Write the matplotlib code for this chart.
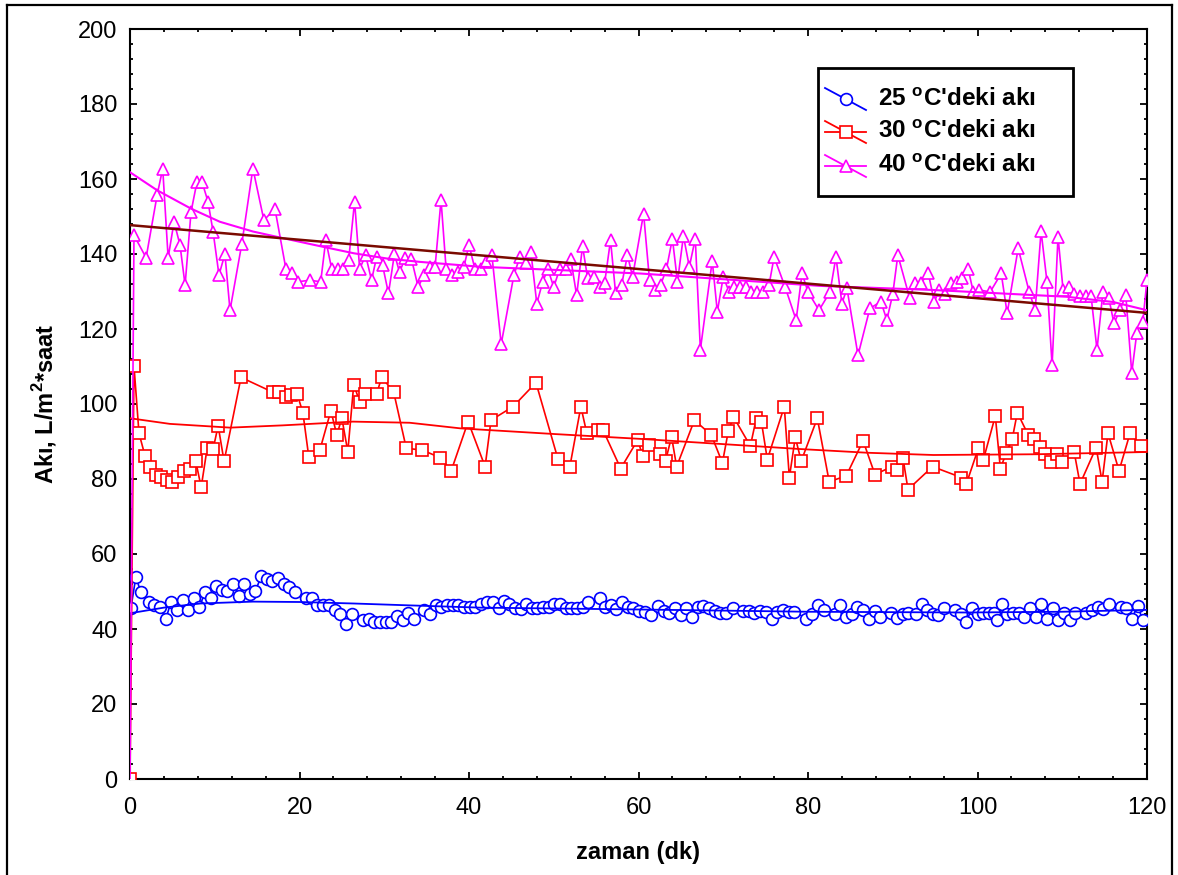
import numpy as np
import matplotlib
matplotlib.use("Agg")
import matplotlib.pyplot as plt
from matplotlib.lines import Line2D
from matplotlib.patches import Rectangle
from matplotlib.ticker import MultipleLocator

plt.rcParams['font.family'] = ['Liberation Sans', 'DejaVu Sans']
plt.rcParams['mathtext.fontset'] = 'custom'
plt.rcParams['mathtext.rm'] = 'Liberation Sans'
plt.rcParams['mathtext.bf'] = 'Liberation Sans:bold'

# ---------------- data ----------------
t25 = [0.1, 0.7, 1.26, 2.2, 2.8, 3.5, 4.25, 4.84, 5.5, 6.2, 6.8, 7.5, 8.2, 8.85, 9.5, 10.2, 10.9, 11.5, 12.2, 12.9,
       13.5, 14.2, 14.8, 15.5, 16.2, 16.8, 17.5, 18.2, 18.8, 19.5, 20.8, 21.5, 22.1, 22.8, 23.5, 24.2, 24.8, 25.5,
       26.2, 27.5, 28.2, 28.8, 29.5, 30.2, 30.8, 31.5, 32.2, 32.8, 33.5, 34.7, 35.4, 36.1, 36.7, 37.4, 38.1, 38.7,
       39.4, 40.1, 40.7, 41.4, 42.1, 42.8, 43.5, 44.1, 44.7, 45.4, 46.1, 46.7, 47.4, 48.0, 48.7, 49.4, 50.0, 50.7,
       51.4, 52.0, 52.7, 53.4, 54.0, 55.5, 56.1, 56.8, 57.4, 58.1, 58.8, 59.4, 60.1, 60.8, 61.5, 62.3, 63.0, 63.6,
       64.3, 65.0, 65.6, 66.3, 67.0, 67.6, 68.3, 69.0, 69.6, 70.3, 71.1, 72.3, 73.0, 73.6, 74.3, 75.0, 75.8, 76.4,
       77.1, 77.8, 78.4, 79.8, 80.5, 81.2, 81.9, 83.2, 83.8, 84.5, 85.2, 85.8, 86.5, 87.2, 87.9, 88.5, 89.8, 90.5,
       91.2, 91.8, 92.7, 93.4, 94.0, 94.7, 95.3, 96.0, 97.3, 98.0, 98.7, 99.3, 100.0, 100.6, 101.3, 102.0, 102.3,
       102.9, 103.5, 104.2, 104.9, 105.5, 106.2, 106.9, 107.5, 108.2, 108.9, 109.5, 110.2, 110.9, 111.5, 112.8,
       113.5, 114.2, 114.8, 115.5, 116.9, 117.5, 118.2, 118.9, 119.5]
flux25 = [45.5, 54.0, 49.8, 47.3, 46.4, 45.9, 42.8, 47.3, 45.2, 47.7, 45.2, 48.2, 45.8, 49.9, 48.4, 51.5, 50.4, 50.2,
          51.9, 48.9, 51.9, 49.3, 50.2, 54.1, 53.3, 52.8, 53.5, 51.9, 51.3, 49.8, 48.4, 48.4, 46.4, 46.4, 46.5, 45.1,
          43.9, 41.3, 43.9, 42.4, 42.8, 41.9, 41.9, 41.9, 41.9, 43.5, 42.4, 44.4, 42.8, 45.2, 44.0, 46.4, 45.8, 46.4,
          46.4, 46.4, 45.8, 45.8, 45.8, 46.7, 47.1, 47.1, 45.5, 47.5, 46.6, 45.5, 45.3, 46.8, 45.5, 45.5, 45.9, 45.9,
          46.7, 46.7, 45.5, 45.5, 45.5, 45.9, 47.1, 48.2, 45.9, 46.5, 45.3, 47.1, 45.9, 45.5, 44.8, 44.6, 43.7, 46.1,
          44.9, 44.2, 45.5, 43.7, 45.5, 43.3, 45.8, 46.2, 45.5, 44.9, 44.4, 44.2, 45.5, 44.9, 44.9, 44.2, 44.9, 44.6,
          42.8, 44.6, 45.0, 44.6, 44.6, 42.8, 44.1, 46.4, 45.2, 44.0, 46.4, 43.1, 44.0, 45.8, 45.2, 42.8, 44.9, 43.3,
          44.4, 43.0, 43.9, 44.4, 44.0, 46.6, 45.1, 43.9, 43.7, 45.5, 45.1, 44.0, 41.9, 45.5, 43.9, 44.4, 44.4, 44.2,
          42.4, 46.6, 44.0, 44.4, 44.4, 43.3, 45.5, 43.3, 46.6, 42.8, 45.5, 42.4, 44.4, 42.4, 44.4, 44.4, 45.1, 46.0,
          45.3, 46.6, 46.0, 45.5, 42.8, 46.1, 42.4]

t30 = [0, 0.47, 1.06, 1.77, 2.4, 3.07, 3.7, 4.4, 5.0, 5.7, 6.4, 7.1, 7.75, 8.4, 9.1, 9.8, 10.4, 11.1, 13.1, 16.9,
       17.6, 18.4, 19.0, 19.7, 20.4, 21.1, 22.4, 23.7, 24.4, 25.0, 25.7, 26.4, 27.1, 27.7, 29.1, 29.7, 31.1, 32.6,
       34.5, 36.6, 37.9, 39.9, 41.9, 42.6, 45.2, 47.9, 50.5, 51.9, 53.2, 53.9, 55.2, 55.8, 57.9, 59.9, 60.5, 61.2,
       62.5, 63.2, 63.9, 64.5, 66.6, 68.6, 69.9, 70.6, 71.2, 73.2, 73.9, 74.5, 75.2, 77.2, 77.8, 78.5, 79.2, 81.1,
       82.5, 84.5, 86.5, 87.9, 89.9, 90.5, 91.2, 91.8, 94.7, 98.1, 98.7, 100.1, 100.7, 102.1, 102.7, 103.4, 104.1,
       104.7, 106.0, 106.7, 107.4, 108.0, 108.7, 109.4, 110.0, 111.4, 112.1, 114.0, 114.7, 115.4, 116.7, 118.0,
       119.3]
flux30 = [0, 110.2, 92.2, 86.2, 83.3, 81.2, 80.6, 79.7, 79.3, 80.6, 82.1, 82.8, 84.8, 77.8, 88.2, 87.9, 94.2, 84.7,
          107.1, 103.1, 103.1, 101.8, 102.3, 102.8, 97.7, 85.8, 87.7, 98.2, 91.8, 96.2, 87.3, 105.2, 100.6, 102.7,
          102.7, 107.1, 103.3, 88.2, 87.7, 85.7, 82.2, 95.3, 83.3, 95.7, 99.3, 105.7, 85.3, 83.3, 99.3, 92.2, 93.1,
          93.1, 82.8, 90.4, 86.2, 89.2, 86.8, 84.9, 91.3, 83.3, 95.7, 91.7, 84.3, 92.8, 96.6, 88.8, 96.2, 95.3, 85.2,
          99.3, 80.4, 91.1, 84.8, 96.2, 79.3, 80.8, 90.2, 81.2, 83.3, 82.4, 85.7, 77.2, 83.3, 80.4, 78.8, 88.2, 85.2,
          96.8, 82.8, 87.0, 90.7, 97.7, 91.7, 90.8, 88.6, 86.8, 84.6, 86.8, 84.6, 87.3, 78.7, 88.4, 79.3, 92.2, 82.2,
          92.2, 88.8]

t40 = [0, 0.47, 1.9, 3.2, 3.86, 4.5, 5.2, 5.9, 6.5, 7.2, 7.9, 8.5, 9.2, 9.8, 10.5, 11.2, 11.8, 13.2, 14.5, 15.8,
       17.1, 18.4, 19.1, 19.8, 21.2, 22.5, 23.1, 23.8, 24.5, 25.1, 25.8, 26.5, 27.1, 27.8, 28.5, 29.1, 29.8, 30.5,
       31.2, 31.8, 32.5, 33.2, 34.0, 34.7, 35.4, 36.0, 36.7, 37.3, 38.0, 38.7, 39.4, 40.0, 40.7, 41.4, 42.0, 42.7,
       43.8, 45.3, 46.0, 46.7, 47.3, 48.0, 48.7, 49.3, 50.0, 50.7, 51.4, 52.0, 52.7, 53.4, 54.0, 54.7, 55.4, 56.0,
       56.7, 57.3, 58.0, 58.7, 59.3, 60.6, 61.3, 62.0, 62.6, 63.3, 64.0, 64.6, 65.3, 66.0, 66.7, 67.3, 68.7, 69.3,
       70.0, 70.7, 71.3, 72.0, 72.7, 73.3, 74.0, 74.7, 75.4, 76.0, 77.3, 78.6, 79.3, 80.0, 81.3, 82.6, 83.3, 84.0,
       84.6, 85.9, 87.3, 88.6, 89.3, 90.0, 90.6, 92.0, 92.6, 93.3, 94.2, 94.9, 95.5, 96.2, 96.9, 97.6, 98.2, 98.9,
       99.5, 100.2, 101.5, 102.8, 103.5, 104.8, 106.1, 106.8, 107.5, 108.2, 108.8, 109.5, 110.1, 110.8, 111.4,
       112.1, 112.8, 113.4, 114.1, 114.8, 115.5, 116.1, 116.8, 117.5, 118.2, 118.8, 119.5, 120.0]
flux40 = [0, 145.0, 139.0, 155.7, 162.8, 139.0, 148.6, 142.4, 131.7, 151.2, 159.2, 159.2, 154.0, 146.0, 134.4, 140.0,
          125.0, 142.8, 162.8, 149.0, 152.1, 136.0, 134.8, 132.6, 133.0, 132.6, 143.7, 136.0, 136.0, 136.0, 138.4,
          154.0, 136.0, 139.7, 133.0, 139.2, 137.0, 129.5, 140.0, 135.2, 139.0, 138.8, 131.2, 134.4, 136.6, 136.6,
          154.4, 136.0, 134.4, 135.2, 136.6, 142.4, 136.0, 136.0, 137.9, 139.7, 116.0, 134.4, 139.2, 137.5, 140.6,
          126.8, 132.6, 136.0, 131.2, 136.0, 136.0, 138.8, 129.0, 142.1, 133.5, 133.9, 131.2, 132.2, 143.7, 129.5,
          131.7, 139.7, 133.9, 150.8, 133.0, 130.4, 131.7, 136.0, 144.1, 132.6, 144.8, 136.6, 144.1, 114.5, 138.2,
          124.6, 133.9, 129.9, 131.2, 131.2, 131.2, 129.9, 129.9, 129.9, 131.7, 139.2, 131.2, 122.4, 134.8, 129.9,
          125.0, 129.9, 139.2, 126.8, 130.8, 113.0, 125.5, 127.3, 122.4, 129.3, 139.7, 128.2, 132.2, 132.2, 134.8,
          127.3, 130.4, 129.3, 132.2, 132.6, 133.7, 136.0, 129.9, 130.4, 129.9, 134.8, 124.2, 141.5, 129.9, 125.0,
          146.1, 132.6, 110.3, 144.6, 130.4, 131.2, 129.3, 128.8, 128.8, 128.8, 114.5, 129.9, 128.2, 121.5, 125.0,
          129.0, 108.3, 119.0, 121.9, 133.0]

# smoothed fit curves
fit25_t = [0, 4, 8.3, 14.5, 20, 26.4, 33, 41.3, 60.2, 80, 98.7, 110, 120]
fit25_y = [44.2, 45.7, 46.8, 47.3, 47.2, 46.8, 46.3, 45.7, 45.2, 44.6, 44.4, 44.6, 45.1]
fit30_t = [0, 4.7, 11.8, 18, 26.3, 33, 39, 50, 60.2, 70, 79, 87, 94.8, 107, 120]
fit30_y = [96.2, 94.7, 93.7, 94.3, 95.3, 95.0, 93.5, 92.0, 90.7, 89.3, 88.0, 87.0, 86.4, 86.6, 87.2]
fit40_t = [0, 3.2, 7.2, 10.6, 14.5, 17.7, 22.4, 26.4, 30.3, 34.2, 41.3, 60.2, 81.4, 94.8, 110.5, 116, 120]
fit40_y = [161.8, 157.0, 152.1, 148.6, 146.0, 144.4, 142.1, 140.2, 138.8, 137.9, 136.6, 134.8, 131.5, 130.4,
           128.6, 127.2, 125.0]
lin40_t = [0, 120]
lin40_y = [147.7, 124.3]

labels = ["25 $^{\\mathbf{o}}$C'deki akı", "30 $^{\\mathbf{o}}$C'deki akı", "40 $^{\\mathbf{o}}$C'deki akı"]
xticks = [0, 20, 40, 60, 80, 100, 120]
yticks = [0, 20, 40, 60, 80, 100, 120, 140, 160, 180, 200]

C25, C30, C40, CLIN = '#0000ff', '#ff0000', '#ff00ff', '#7a0a00'

# ---------------- figure ----------------
W, H = 1178, 875
fig = plt.figure(figsize=(W / 100, H / 100), dpi=100)
L, R, T, B = 130, 1147, 29, 779
ax = fig.add_axes([L / W, 1 - B / H, (R - L) / W, (B - T) / H])

ms_kw = dict(markerfacecolor='white', markeredgewidth=1.2, linewidth=1.2)
ax.plot(t25, flux25, color=C25, marker='o', markersize=8.5, markeredgecolor=C25, zorder=3, **ms_kw)
ax.plot(fit25_t, fit25_y, color=C25, linewidth=1.3, zorder=3.5)
ax.plot(t30, flux30, color=C30, marker='s', markersize=8.0, markeredgecolor=C30, zorder=4, **ms_kw)
ax.plot(fit30_t, fit30_y, color=C30, linewidth=1.3, zorder=4.5)
ax.plot(t40, flux40, color=C40, marker='^', markersize=9.0, markeredgecolor=C40, zorder=5,
        markevery=slice(1, None), **ms_kw)
ax.plot(fit40_t, fit40_y, color=C40, linewidth=1.5, zorder=5.5)
ax.plot(lin40_t, lin40_y, color=CLIN, linewidth=1.8, zorder=6)

ax.set_xlim(0, 120)
ax.set_ylim(0, 200)
ax.set_xticks(xticks)
ax.set_yticks(yticks)
ax.xaxis.set_minor_locator(MultipleLocator(4))
ax.yaxis.set_minor_locator(MultipleLocator(4))
ax.tick_params(which='both', direction='in', top=True, right=True, width=1.3, colors='black')
ax.tick_params(which='major', length=5, labelsize=17)
ax.tick_params(which='minor', length=2.5)
ax.tick_params(axis='x', which='major', pad=13)
ax.tick_params(axis='y', which='major', pad=9)
for s in ax.spines.values():
    s.set_linewidth(1.5)

ax.set_xlabel('zaman (dk)', fontsize=17, fontweight='bold', labelpad=16)
ax.set_ylabel('Akı, L/m$^{\\mathbf{2}}$*saat', fontsize=17, fontweight='bold', labelpad=14)


# ---------------- legend (drawn in pixel space) ----------------
def fx(px):
    return px / W


def fy(py):
    return 1 - py / H


fig.add_artist(Rectangle((fx(818), fy(196)), fx(1073) - fx(818), fy(68) - fy(196), transform=fig.transFigure,
                         facecolor='white', edgecolor='black', linewidth=2.0, zorder=10))
rows = [(99, C25, 'o', 8.5, False), (132, C30, 's', 8.0, True), (166, C40, '^', 9.0, True)]
for (py, col, mk, msz, horiz), lab in zip(rows, labels):
    fig.add_artist(Line2D([fx(825), fx(866)], [fy(py - 11), fy(py + 11)], transform=fig.transFigure,
                          color=col, linewidth=1.3, zorder=11))
    if horiz:
        fig.add_artist(Line2D([fx(825), fx(866)], [fy(py), fy(py)], transform=fig.transFigure,
                              color=col, linewidth=1.3, zorder=11))
    fig.add_artist(Line2D([fx(846)], [fy(py)], transform=fig.transFigure, color=col, marker=mk,
                          markersize=msz, markerfacecolor='white', markeredgecolor=col,
                          markeredgewidth=1.2, linestyle='none', zorder=12))
    fig.text(fx(878), fy(py), lab, fontsize=17.5, fontweight='bold', va='center', ha='left', zorder=12)

# outer frame
for xs, ys in [([7, 7], [5, 890]), ([7, 1172], [5, 5]), ([1172, 1172], [5, 890])]:
    fig.add_artist(Line2D([fx(x) for x in xs], [fy(y) for y in ys], transform=fig.transFigure,
                          color='black', linewidth=1.6))

fig.savefig('out.png', dpi=100, facecolor='white')
